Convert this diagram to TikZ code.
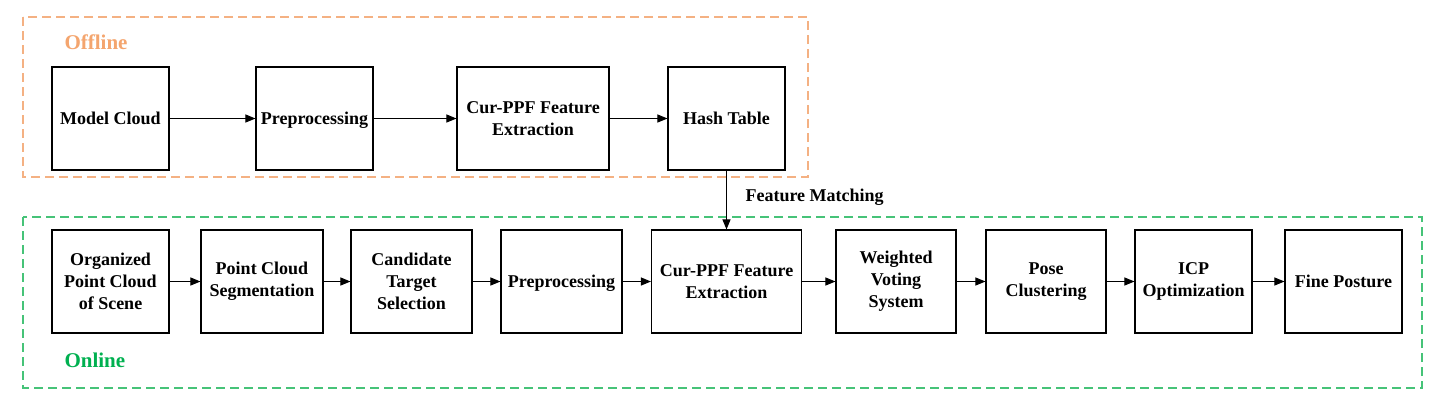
\documentclass[tikz,border=0pt]{standalone}
\usepackage{fontspec}
\setmainfont{Liberation Serif}
\usetikzlibrary{arrows.meta}
\definecolor{offcol}{RGB}{244,177,131}
\definecolor{offtext}{RGB}{244,165,110}
\definecolor{oncol}{RGB}{70,195,120}
\definecolor{ontext}{RGB}{0,176,80}
\begin{document}
\begin{tikzpicture}[x=1pt,y=-1pt]

    \tikzset{
      stage/.style={
        draw,
        line width=1.1pt,
        align=center,
        inner sep=0pt,
        minimum height=103pt,
        font=\fontsize{18}{22}\selectfont\bfseries,
      },
      flow/.style={
        line width=1pt,
        -{Triangle[length=10pt,width=8pt]},
      },
      region/.style={
        line width=1.4pt,
        dash pattern=on 9pt off 5pt,
      },
    }
    \useasboundingbox (0,0) rectangle (1450,402);
    % offline part
	\draw[region,color={offcol}] (23,17) rectangle (808,177);
	\node[anchor = west,text=offtext,font=\fontsize{21}{24}\selectfont\bfseries] (offline) at (61,42) {Offline};
	\node[stage,minimum width=117pt] (model) at (110.5,118.5) {Model Cloud};
	\node[stage,minimum width=117pt,text depth=0pt] (prepA) at (314.5,118.5) {Preprocessing};
	\node[stage,minimum width=152pt] (featA) at (533,118.5) {Cur-PPF Feature\\Extraction};
	\node[stage,minimum width=117pt] (hash) at (726.5,118.5) {Hash Table};
	\draw[flow] (model)--(prepA);
	\draw[flow] (prepA)--(featA);
	\draw[flow] (featA)--(hash);
    % online part
	\draw[region,color={oncol}] (23,217) rectangle (1422,388);
	\node[anchor = west,text=ontext,font=\fontsize{21}{24}\selectfont\bfseries] (online) at (61,360) {Online};
	\node[stage,minimum width=117pt] (scene) at (110.5,281.5) {Organized\\Point Cloud\\of Scene};
	\node[stage,minimum width=122pt] (seg) at (262,281.5) {Point Cloud\\Segmentation};
	\node[stage,minimum width=121pt] (cand) at (411.5,281.5) {Candidate\\Target\\Selection};
	\node[stage,minimum width=121pt,text depth=0pt] (prepB) at (561.5,281.5) {Preprocessing};
	\node[stage,minimum width=150pt] (featB) at (726.5,281.5) {Cur-PPF Feature\\Extraction};
	\node[stage,minimum width=120pt] (vote) at (896,281.5) {Weighted\\Voting\\System};
	\node[stage,minimum width=120pt] (pose) at (1046,281.5) {Pose\\Clustering};
	\node[stage,minimum width=117pt] (icp) at (1193.5,281.5) {ICP\\Optimization};
	\node[stage,minimum width=117pt] (fine) at (1343.5,281.5) {Fine Posture};
	\draw[flow] (scene)--(seg);
	\draw[flow] (seg)--(cand);
	\draw[flow] (cand)--(prepB);
	\draw[flow] (prepB)--(featB);
	\draw[flow] (featB)--(vote);
	\draw[flow] (vote)--(pose);
	\draw[flow] (pose)--(icp);
	\draw[flow] (icp)--(fine);
    % matching
	\draw[flow] (hash)--(featB);
	\node[anchor = west,font=\fontsize{18}{22}\selectfont\bfseries] (match) at (742,197) {Feature Matching};

\end{tikzpicture}
\end{document}
